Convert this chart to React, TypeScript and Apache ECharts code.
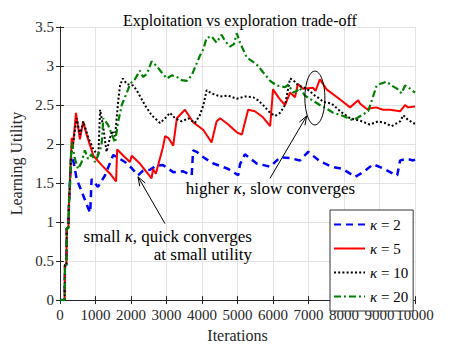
import React, { useEffect, useRef } from "react";
import * as echarts from "echarts";

// ---- data (iterations, learning utility) ----
const blueIter = [0, 130, 140, 180, 190, 235, 250, 280, 310, 350, 470, 560, 800, 850, 890, 1070, 1270, 1500, 1650, 1830, 2000, 2200, 2340, 2535, 2700, 2900, 3190, 3470, 3710, 3750, 3850, 4040, 4320, 4510, 4740, 5020, 5070, 5210, 5540, 5920, 6200, 6480, 6760, 6990, 7320, 7650, 7970, 8310, 8540, 8820, 9100, 9380, 9500, 9580, 9770, 9950, 10000];
const blueUtil = [0, 0, 0.45, 0.45, 0.92, 0.92, 1.2, 1.5, 1.82, 1.85, 1.55, 1.45, 1.17, 1.12, 1.55, 1.45, 1.6, 1.86, 1.82, 1.77, 1.7, 1.6, 1.66, 1.67, 1.72, 1.73, 1.64, 1.65, 1.6, 1.92, 1.9, 1.83, 1.75, 1.72, 1.68, 1.6, 1.74, 1.87, 1.75, 1.71, 1.83, 1.82, 1.79, 1.9, 1.78, 1.71, 1.68, 1.58, 1.64, 1.74, 1.69, 1.62, 1.6, 1.79, 1.81, 1.79, 1.8];

const redIter = [0, 130, 140, 180, 190, 235, 250, 280, 310, 330, 360, 450, 560, 655, 750, 940, 1175, 1410, 1580, 1610, 1830, 1970, 2020, 2250, 2580, 2620, 2700, 2900, 2960, 3050, 3190, 3290, 3520, 3750, 4040, 4270, 4410, 4510, 4740, 4980, 5120, 5300, 5490, 5700, 5920, 6000, 6200, 6340, 6480, 6620, 6700, 6850, 7130, 7200, 7320, 7510, 7890, 8170, 8400, 8450, 8640, 8900, 9100, 9300, 9580, 9720, 9800, 10000];
const redUtil = [0, 0, 0.45, 0.45, 0.92, 0.92, 1.2, 1.5, 1.85, 2.08, 1.95, 2.4, 2.06, 2.29, 2.12, 1.85, 1.73, 1.62, 1.52, 1.93, 1.83, 1.77, 1.85, 1.75, 1.56, 1.68, 1.62, 1.96, 2.1, 2.08, 1.98, 2.33, 2.44, 2.28, 2.18, 2.02, 2.29, 2.33, 2.25, 2.15, 2.12, 2.44, 2.42, 2.35, 2.23, 2.7, 2.57, 2.5, 2.66, 2.6, 2.77, 2.71, 2.72, 2.68, 2.83, 2.7, 2.57, 2.47, 2.56, 2.52, 2.45, 2.47, 2.44, 2.44, 2.42, 2.5, 2.47, 2.48];

const blackIter = [0, 130, 140, 180, 190, 235, 250, 280, 310, 350, 470, 563, 655, 800, 940, 1080, 1130, 1220, 1310, 1460, 1550, 1640, 1690, 1770, 1880, 2060, 2160, 2390, 2580, 2820, 2960, 3100, 3240, 3430, 3610, 3800, 3940, 4040, 4130, 4270, 4510, 4740, 4980, 5210, 5440, 5580, 5720, 5920, 6060, 6200, 6340, 6480, 6570, 6710, 6950, 7180, 7320, 7410, 7650, 7890, 8170, 8450, 8730, 8960, 9150, 9340, 9580, 9670, 9800, 9950, 10000];
const blackUtil = [0, 0, 0.45, 0.45, 0.92, 0.92, 1.2, 1.5, 1.85, 1.95, 2.33, 2.12, 2.29, 2.08, 1.93, 1.85, 2.44, 2.21, 1.9, 2.17, 2.1, 2.55, 2.75, 2.84, 2.77, 2.75, 2.69, 2.5, 2.37, 2.27, 2.33, 2.4, 2.33, 2.29, 2.33, 2.27, 2.37, 2.5, 2.69, 2.65, 2.61, 2.62, 2.58, 2.61, 2.6, 2.56, 2.5, 2.4, 2.36, 2.4, 2.5, 2.84, 2.82, 2.75, 2.71, 2.62, 2.58, 2.54, 2.52, 2.42, 2.33, 2.3, 2.25, 2.29, 2.27, 2.23, 2.29, 2.37, 2.31, 2.27, 2.26];

const greenIter = [0, 130, 140, 180, 190, 235, 250, 280, 310, 330, 420, 510, 610, 700, 790, 890, 985, 1070, 1170, 1220, 1350, 1500, 1550, 1640, 1740, 1830, 1920, 1970, 2110, 2250, 2340, 2450, 2580, 2720, 2860, 3010, 3150, 3290, 3430, 3570, 3710, 3800, 3940, 4040, 4130, 4270, 4410, 4550, 4650, 4790, 4900, 4980, 5070, 5260, 5540, 5720, 5920, 6100, 6340, 6430, 6570, 6670, 6750, 6900, 7040, 7320, 7560, 7700, 7980, 8220, 8360, 8500, 8680, 8820, 8920, 9010, 9200, 9340, 9490, 9620, 9720, 9860, 10000];
const greenUtil = [0, 0, 0.45, 0.45, 0.92, 0.92, 1.2, 1.5, 1.85, 2.02, 1.81, 1.68, 1.77, 1.92, 1.81, 1.87, 1.77, 1.85, 1.98, 2.33, 2.25, 2.08, 2.02, 2.29, 2.5, 2.6, 2.7, 2.77, 2.83, 2.94, 2.86, 2.9, 3.06, 3.0, 2.92, 2.84, 2.88, 2.86, 2.82, 2.81, 2.88, 2.98, 3.13, 3.22, 3.36, 3.38, 3.3, 3.4, 3.32, 3.25, 3.28, 3.42, 3.3, 3.11, 3.02, 2.92, 2.81, 2.75, 2.73, 2.76, 2.66, 2.68, 2.72, 2.62, 2.58, 2.5, 2.44, 2.4, 2.36, 2.31, 2.33, 2.37, 2.42, 2.61, 2.75, 2.77, 2.8, 2.75, 2.71, 2.65, 2.75, 2.71, 2.66];

const seriesNames = ["κ = 2", "κ = 5", "κ = 10", "κ = 20"];
const seriesColors = ["#0000ff", "#ff0000", "#000000", "#008000"];

const titleText = "Exploitation vs exploration trade-off";
const xName = "Iterations";
const yName = "Learning Utility";

// annotation anchors in data coordinates
const ellipseCenter = [7180, 2.59];
const ellipseRadius = [282, 0.345];
const arrowHigh = { tail: [5915, 1.56], head: [6950, 2.36] };
const arrowSmall = { tail: [2958, 0.98], head: [2197, 1.58] };
const textHigh = { pos: [5930, 1.43], text: "higher {i|κ}, slow converges" };
const textSmall1 = { pos: [5408, 0.82], text: "small {i|κ}, quick converges" };
const textSmall2 = { pos: [5408, 0.58], text: "at small utility" };

const FONT = "Liberation Serif";
const AXIS_COLOR = "#262626";

export default function App() {
  const ref = useRef<HTMLDivElement>(null);

  useEffect(() => {
    const chart = echarts.init(ref.current!, undefined, { renderer: "svg" });
    const zip = (xs: number[], ys: number[]) => xs.map((x, i) => [x, ys[i]]);
    const allData = [
      zip(blueIter, blueUtil),
      zip(redIter, redUtil),
      zip(blackIter, blackUtil),
      zip(greenIter, greenUtil),
    ];
    const lineTypes: any[] = [[7, 5], "solid", [2, 2.2], [7, 3, 2, 3]];
    const lineWidths = [2.5, 2, 2, 2.2];

    const xAxisBase = {
      type: "value",
      min: 0,
      max: 10000,
      interval: 1000,
      axisLine: { show: true, lineStyle: { color: AXIS_COLOR, width: 1 } },
      axisTick: { show: true, inside: true, length: 4, lineStyle: { color: AXIS_COLOR } },
    };
    const yAxisBase = {
      type: "value",
      min: 0,
      max: 3.5,
      interval: 0.5,
      axisLine: { show: true, lineStyle: { color: AXIS_COLOR, width: 1 } },
      axisTick: { show: true, inside: true, length: 4, lineStyle: { color: AXIS_COLOR } },
    };
    const labelStyle = {
      fontFamily: FONT,
      fontSize: 15,
      color: AXIS_COLOR,
      formatter: (v: number) => String(v),
      showMaxLabel: true,
      showMinLabel: true,
      hideOverlap: false,
    };

    const option: any = {
      animation: false,
      backgroundColor: "#ffffff",
      textStyle: { fontFamily: FONT },
      title: {
        text: titleText,
        left: 118,
        top: 7,
        textStyle: { fontFamily: FONT, fontSize: 16, fontWeight: "normal", color: "#000" },
      },
      grid: { left: 60, right: 42, top: 27, bottom: 42, containLabel: false },
      xAxis: [
        {
          ...xAxisBase,
          position: "bottom",
          name: xName,
          nameLocation: "middle",
          nameGap: 24,
          nameTextStyle: { fontFamily: FONT, fontSize: 16, color: AXIS_COLOR },
          axisLabel: { ...labelStyle, margin: 7 },
          splitLine: { show: true, lineStyle: { color: "#e3e3e3", width: 1 } },
        },
        {
          ...xAxisBase,
          position: "top",
          axisLabel: { show: false },
          splitLine: { show: false },
        },
      ],
      yAxis: [
        {
          ...yAxisBase,
          position: "left",
          name: yName,
          nameLocation: "middle",
          nameGap: 26,
          nameTextStyle: { fontFamily: FONT, fontSize: 16, color: AXIS_COLOR },
          axisLabel: { ...labelStyle, margin: 6 },
          splitLine: { show: true, lineStyle: { color: "#e3e3e3", width: 1 } },
        },
        {
          ...yAxisBase,
          position: "right",
          axisLabel: { show: false },
          splitLine: { show: false },
        },
      ],
      legend: {
        orient: "vertical",
        left: 330,
        top: 210,
        padding: [7, 5, 7, 3],
        itemWidth: 31,
        itemHeight: 14,
        itemGap: 9,
        selectedMode: false,
        backgroundColor: "#ffffff",
        borderColor: "#333333",
        borderWidth: 1,
        itemStyle: { opacity: 0 },
        data: seriesNames,
        formatter: (name: string) => "{i|κ}{r|" + name.replace("κ", "") + "}",
        textStyle: {
          fontFamily: FONT,
          fontSize: 15,
          color: "#000",
          rich: {
            i: { fontFamily: FONT, fontSize: 15, fontStyle: "italic", color: "#000" },
            r: { fontFamily: FONT, fontSize: 15, color: "#000" },
          },
        },
      },
      series: seriesNames.map((name, i) => ({
        name,
        type: "line",
        xAxisIndex: 0,
        yAxisIndex: 0,
        data: allData[i],
        symbol: "none",
        showSymbol: false,
        z: 2 + i,
        itemStyle: { color: seriesColors[i] },
        lineStyle: { color: seriesColors[i], width: lineWidths[i], type: lineTypes[i] },
      })),
    };
    chart.setOption(option);

    const px = (p: number[]) => chart.convertToPixel({ gridIndex: 0 } as any, p) as number[];
    const c = px(ellipseCenter);
    const e = px([ellipseCenter[0] + ellipseRadius[0], ellipseCenter[1] - ellipseRadius[1]]);
    const arrow = (tail: number[], head: number[]) => {
      const t = px(tail);
      const h = px(head);
      const dx = h[0] - t[0];
      const dy = h[1] - t[1];
      const L = Math.hypot(dx, dy);
      const ux = dx / L, uy = dy / L;
      const len = 9, hw = 3.2;
      const bx = h[0] - ux * len, by = h[1] - uy * len;
      return [
        { type: "line", shape: { x1: t[0], y1: t[1], x2: h[0], y2: h[1] }, style: { stroke: "#000", lineWidth: 1 }, z: 100 },
        {
          type: "polyline",
          shape: { points: [[bx - uy * hw, by + ux * hw], [h[0], h[1]], [bx + uy * hw, by - ux * hw]] },
          style: { stroke: "#000", lineWidth: 1, fill: null },
          z: 100,
        },
      ];
    };
    const richI = { i: { fontFamily: FONT, fontSize: 17, fontStyle: "italic", fill: "#000" } };
    const txt = (p: number[], text: string, align: string) => {
      const q = px(p);
      return {
        type: "text",
        z: 100,
        style: {
          text,
          x: q[0],
          y: q[1],
          fill: "#000",
          fontFamily: FONT,
          fontSize: 17,
          align,
          textAlign: align,
          verticalAlign: "middle",
          textVerticalAlign: "middle",
          rich: richI,
        },
      };
    };

    chart.setOption({
      graphic: [
        {
          type: "ellipse",
          shape: { cx: c[0], cy: c[1], rx: Math.abs(e[0] - c[0]), ry: Math.abs(e[1] - c[1]) },
          style: { stroke: "#000", lineWidth: 1, fill: null },
          z: 100,
        },
        ...arrow(arrowHigh.tail, arrowHigh.head),
        ...arrow(arrowSmall.tail, arrowSmall.head),
        txt(textHigh.pos, textHigh.text, "center"),
        txt(textSmall1.pos, textSmall1.text, "right"),
        txt(textSmall2.pos, textSmall2.text, "right"),
      ],
    });

    return () => chart.dispose();
  }, []);

  return <div ref={ref} style={{ position: "fixed", left: 0, top: 0, width: 457, height: 348 }} />;
}
